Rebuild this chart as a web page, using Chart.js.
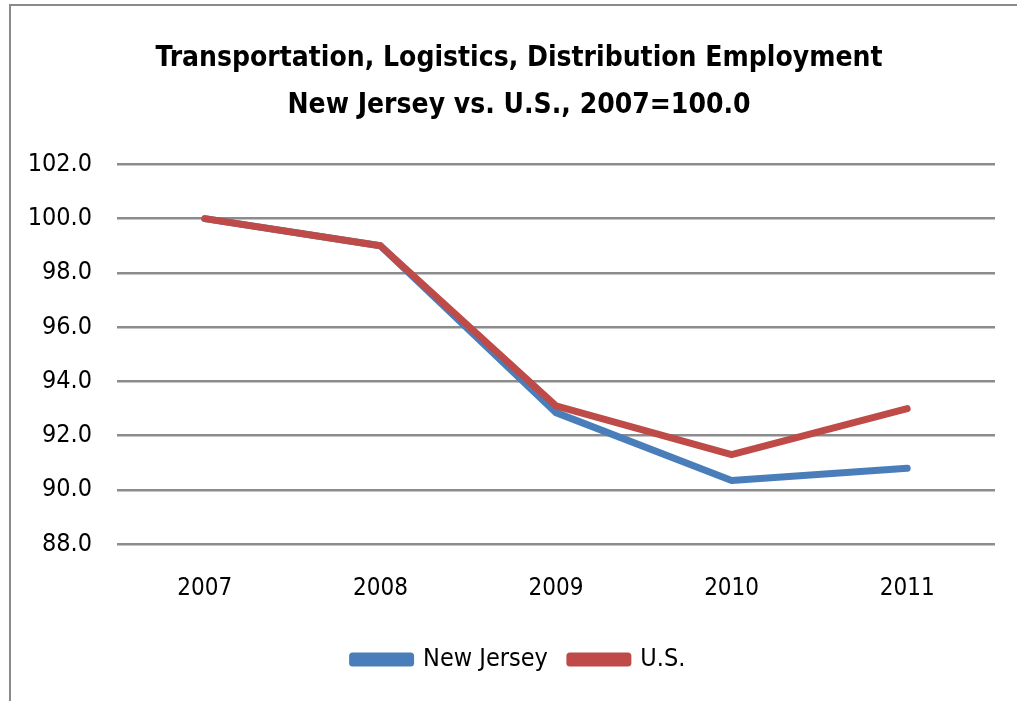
<!DOCTYPE html>
<html>
<head>
<meta charset="utf-8">
<script src="https://cdn.jsdelivr.net/npm/chart.js@4"></script>
<style>
  html, body { margin: 0; padding: 0; background: #fff; }
  #wrap { position: relative; width: 1017px; height: 701px; }
  #frame { position: absolute; left: 9px; top: 4px; width: 1020px; height: 710px;
           border-left: 2px solid #8a8a8a; border-top: 2px solid #8a8a8a; }
  canvas { position: absolute; left: 0; top: 0; }
</style>
</head>
<body>
<div id="wrap">
  <div id="frame"></div>
  <canvas id="chart" width="1017" height="701"></canvas>
</div>
<script>
const years = ['2007', '2008', '2009', '2010', '2011'];
const newJersey = [100.0, 99.0, 92.85, 90.35, 90.8];
const us = [100.0, 99.0, 93.1, 91.3, 93.0];
const yTicks = [88, 90, 92, 94, 96, 98, 100, 102];

const fontFam = "'Liberation Sans Narrow', 'DejaVu Sans Condensed', sans-serif";

document.addEventListener("DOMContentLoaded", () => {
  const ctx = document.getElementById('chart');
  new Chart(ctx, {
    type: 'line',
    data: {
      labels: years,
      datasets: [{
        label: 'New Jersey',
        data: newJersey,
        order: 1,
        borderColor: '#4a7ebb',
        backgroundColor: '#4a7ebb',
        borderWidth: 7,
        pointRadius: 0,
        borderCapStyle: 'round',
        borderJoinStyle: 'round',
        fill: false
      }, {
        label: 'U.S.',
        data: us,
        order: 0,
        borderColor: '#be4b48',
        backgroundColor: '#be4b48',
        borderWidth: 7,
        pointRadius: 0,
        borderCapStyle: 'round',
        borderJoinStyle: 'round',
        fill: false
      }]
    },
    options: {
      responsive: false,
      animation: false,
      layout: { padding: { left: 21, right: 0, top: 36, bottom: 19 } },
      plugins: {
        title: {
          display: true,
          text: ['Transportation, Logistics, Distribution Employment', 'New Jersey vs. U.S., 2007=100.0'],
          color: '#000',
          font: { family: fontFam, size: 28, weight: 'bold', lineHeight: 1.65 },
          padding: { top: 0, bottom: 36 }
        },
        legend: {
          position: 'bottom',
          labels: {
            color: '#000',
            font: { family: fontFam, size: 25 },
            boxWidth: 58,
            boxHeight: 7,
            padding: 22,
            sort: (a, b) => a.datasetIndex - b.datasetIndex
          }
        },
        tooltip: { enabled: false }
      },
      scales: {
        x: {
          offset: true,
          grid: { display: false },
          border: { display: false },
          ticks: { color: '#000', font: { family: fontFam, size: 24 }, padding: 22 }
        },
        y: {
          min: 88,
          max: 102,
          afterBuildTicks: axis => { axis.ticks = yTicks.map(v => ({ value: v })); },
          afterFit: axis => { axis.width = 96; },
          grid: { color: '#8c8c8c', lineWidth: 2.5, drawTicks: false },
          border: { display: false },
          ticks: {
            color: '#000',
            font: { family: fontFam, size: 25 },
            padding: 25,
            callback: v => v.toFixed(1)
          }
        },
        yRight: {
          position: 'right',
          display: true,
          afterFit: axis => { axis.width = 22; },
          grid: { display: false },
          border: { display: false },
          ticks: { display: false }
        }
      }
    }
  });
});
</script>
</body>
</html>
